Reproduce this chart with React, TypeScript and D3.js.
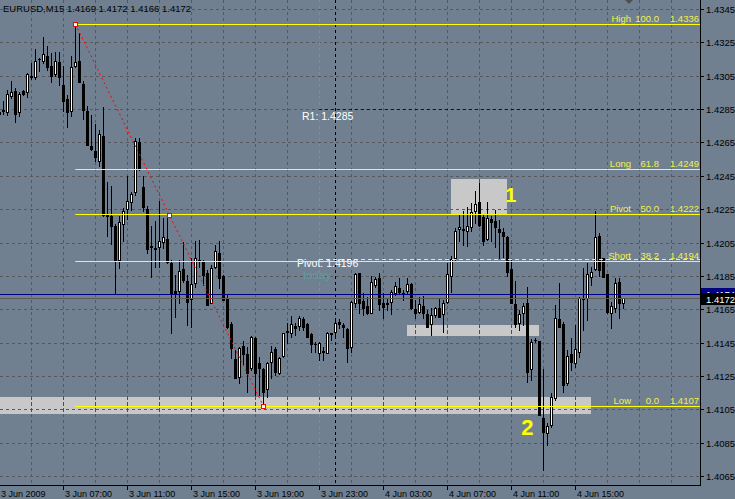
import React from 'react';
import * as d3 from 'd3';

// EURUSD M15 bars, starting 3 Jun 2009 03:00
const OPEN = [
  1.4283, 1.4284, 1.4283, 1.42926, 1.4296, 1.42832, 1.42956, 1.42952, 1.43044, 1.4304,
  1.43148, 1.43136, 1.4317, 1.4311, 1.4306, 1.43134, 1.42994, 1.4291, 1.42836, 1.43106,
  1.4314, 1.43, 1.4284, 1.4263, 1.426, 1.4254, 1.4269, 1.42222, 1.4221, 1.42146,
  1.41946, 1.42162, 1.4225, 1.42292, 1.4235, 1.4265, 1.42382, 1.42252, 1.42024, 1.42014,
  1.42026, 1.42052, 1.42072, 1.4193, 1.4176, 1.4176, 1.41892, 1.4182, 1.4171, 1.41806,
  1.41944, 1.41936, 1.41866, 1.41686, 1.41906, 1.4199, 1.4185, 1.4172, 1.4156, 1.4135,
  1.41246, 1.4143, 1.4138, 1.41296, 1.41476, 1.41326, 1.41292, 1.4117, 1.41336, 1.41412,
  1.41266, 1.4137, 1.41514, 1.41506, 1.4155, 1.4155, 1.4159, 1.4156, 1.415, 1.41442,
  1.4139, 1.41394, 1.41386, 1.41504, 1.41516, 1.41576, 1.41556, 1.41532, 1.41426, 1.41686,
  1.41866, 1.417, 1.4167, 1.4163, 1.41796, 1.41836, 1.4169, 1.41684, 1.41696, 1.4175,
  1.41776, 1.41744, 1.41762, 1.41802, 1.4165, 1.41636, 1.4167, 1.41622, 1.41562, 1.41616,
  1.41656, 1.4162, 1.41696, 1.4185, 1.41956, 1.4213, 1.42124, 1.42116, 1.42142, 1.42236,
  1.42292, 1.422, 1.4207, 1.4219, 1.4218, 1.4213, 1.42114, 1.42082, 1.41892, 1.4168,
  1.41566, 1.41626, 1.41686, 1.4129, 1.41464, 1.4146, 1.41, 1.40906, 1.40956, 1.41116,
  1.4159, 1.41562, 1.41206, 1.41382, 1.41326, 1.41396, 1.41714, 1.41716, 1.41846, 1.4189,
  1.4209, 1.41956, 1.41862, 1.41626, 1.4166, 1.41816, 1.4169,
];
const HIGH = [
  1.4285, 1.42896, 1.42966, 1.43016, 1.42976, 1.4295, 1.42966, 1.43066, 1.43126, 1.4321,
  1.43156, 1.43282, 1.43226, 1.43186, 1.43192, 1.43192, 1.43106, 1.42936, 1.4317, 1.4336,
  1.43306, 1.43016, 1.4287, 1.42816, 1.42762, 1.42726, 1.42862, 1.42412, 1.42386, 1.42162,
  1.42206, 1.42256, 1.4245, 1.42352, 1.42676, 1.42676, 1.4245, 1.42266, 1.42146, 1.42176,
  1.42296, 1.42196, 1.42196, 1.41946, 1.41856, 1.41946, 1.42052, 1.41856, 1.41956, 1.42056,
  1.42066, 1.41946, 1.41886, 1.41916, 1.42036, 1.42056, 1.41856, 1.41736, 1.41576, 1.41406,
  1.41426, 1.4146, 1.41426, 1.41492, 1.41486, 1.41366, 1.41296, 1.41336, 1.4143, 1.41426,
  1.41366, 1.41506, 1.41566, 1.4161, 1.41566, 1.4161, 1.41606, 1.41566, 1.41506, 1.41456,
  1.41456, 1.41426, 1.41512, 1.4151, 1.41596, 1.4159, 1.4157, 1.41536, 1.417, 1.41866,
  1.4187, 1.41746, 1.41726, 1.4185, 1.41846, 1.41866, 1.41746, 1.41716, 1.41766, 1.41816,
  1.41836, 1.41766, 1.41836, 1.41806, 1.41706, 1.41726, 1.4173, 1.41646, 1.41656, 1.41666,
  1.41716, 1.41706, 1.41926, 1.4197, 1.42136, 1.42216, 1.42236, 1.42262, 1.42286, 1.42356,
  1.42406, 1.42216, 1.42292, 1.42206, 1.42246, 1.42186, 1.42136, 1.42086, 1.41946, 1.4182,
  1.41646, 1.41686, 1.41786, 1.4147, 1.41476, 1.4146, 1.4129, 1.40966, 1.41146, 1.41676,
  1.41806, 1.41576, 1.41406, 1.41476, 1.41556, 1.41726, 1.41896, 1.41926, 1.41906, 1.42236,
  1.42106, 1.4196, 1.41862, 1.41696, 1.41836, 1.41836, 1.4172,
];
const LOW = [
  1.4281, 1.42822, 1.42816, 1.42916, 1.42772, 1.42806, 1.42936, 1.42922, 1.4303, 1.4303,
  1.43076, 1.43126, 1.43086, 1.4301, 1.43046, 1.42996, 1.42836, 1.4274, 1.42806, 1.431,
  1.4301, 1.4279, 1.42636, 1.42606, 1.42536, 1.42506, 1.42206, 1.42086, 1.42042, 1.41742,
  1.41896, 1.42056, 1.4219, 1.42246, 1.42336, 1.42486, 1.42236, 1.41986, 1.41846, 1.41906,
  1.41906, 1.42016, 1.41926, 1.41506, 1.41606, 1.41686, 1.41816, 1.41556, 1.41546, 1.41786,
  1.41906, 1.41796, 1.41676, 1.41686, 1.41896, 1.41776, 1.41706, 1.41536, 1.41356, 1.41236,
  1.4121, 1.41322, 1.41156, 1.41286, 1.41136, 1.41136, 1.4107, 1.41126, 1.41236, 1.41256,
  1.41262, 1.41366, 1.41446, 1.41486, 1.41496, 1.41526, 1.41526, 1.41486, 1.41396, 1.41396,
  1.41346, 1.41346, 1.41386, 1.41466, 1.41486, 1.41536, 1.41486, 1.41336, 1.41396, 1.41666,
  1.41626, 1.41616, 1.41622, 1.41626, 1.41786, 1.41646, 1.41596, 1.41646, 1.41622, 1.41736,
  1.41742, 1.41706, 1.4175, 1.4165, 1.41596, 1.41626, 1.41596, 1.41546, 1.41496, 1.41606,
  1.41602, 1.41516, 1.41686, 1.41756, 1.41946, 1.42056, 1.42036, 1.4203, 1.42116, 1.42166,
  1.42146, 1.42036, 1.42062, 1.42056, 1.42026, 1.41956, 1.41962, 1.4185, 1.41686, 1.41546,
  1.41526, 1.41556, 1.41216, 1.41226, 1.41456, 1.41016, 1.40686, 1.40836, 1.40946, 1.41106,
  1.41542, 1.41156, 1.41196, 1.41286, 1.41306, 1.41366, 1.41526, 1.41586, 1.41796, 1.41886,
  1.4185, 1.41842, 1.41626, 1.41536, 1.41636, 1.41596, 1.4166,
];
const CLOSE = [
  1.4282, 1.42844, 1.42942, 1.42952, 1.4282, 1.4294, 1.42942, 1.4306, 1.43048, 1.43136,
  1.43152, 1.4318, 1.431, 1.4305, 1.4314, 1.4304, 1.42896, 1.4283, 1.43102, 1.4313,
  1.4301, 1.42846, 1.42636, 1.4261, 1.4256, 1.427, 1.42216, 1.4221, 1.42146, 1.41946,
  1.42172, 1.42236, 1.423, 1.42342, 1.42656, 1.42496, 1.4226, 1.42012, 1.42028, 1.42018,
  1.4206, 1.4208, 1.41936, 1.41742, 1.41746, 1.4188, 1.41826, 1.41696, 1.418, 1.41956,
  1.41948, 1.41856, 1.41676, 1.41896, 1.42, 1.41836, 1.41706, 1.41546, 1.41416, 1.41236,
  1.41416, 1.4138, 1.41266, 1.41486, 1.41266, 1.41296, 1.41156, 1.41326, 1.41396, 1.41276,
  1.41356, 1.41506, 1.41518, 1.4156, 1.41536, 1.41596, 1.41542, 1.41486, 1.4144, 1.41444,
  1.4145, 1.41398, 1.41506, 1.41508, 1.41566, 1.4156, 1.41546, 1.41416, 1.41696, 1.4186,
  1.41686, 1.41656, 1.41626, 1.41816, 1.4183, 1.4168, 1.41666, 1.41688, 1.41756, 1.4179,
  1.41756, 1.41748, 1.41802, 1.41656, 1.41626, 1.4168, 1.41626, 1.41546, 1.41616, 1.41656,
  1.41606, 1.41686, 1.4186, 1.4195, 1.4212, 1.4214, 1.42128, 1.4215, 1.4223, 1.4228,
  1.42156, 1.42056, 1.42196, 1.4217, 1.4214, 1.42114, 1.42086, 1.41876, 1.41686, 1.41562,
  1.41622, 1.4167, 1.41276, 1.41456, 1.41468, 1.41016, 1.40916, 1.4095, 1.41126, 1.41596,
  1.41546, 1.41196, 1.4137, 1.41336, 1.4141, 1.41716, 1.41718, 1.4186, 1.41876, 1.4208,
  1.41886, 1.41846, 1.41636, 1.4167, 1.41806, 1.41686, 1.4172,
];

const PRICE_TICKS = [1.4065, 1.4085, 1.4105, 1.4125, 1.4145, 1.4165, 1.4185, 1.4205, 1.4225, 1.4245, 1.4265, 1.4285, 1.4305, 1.4325, 1.4345];
const TIME_LABELS = ['3 Jun 2009', '3 Jun 07:00', '3 Jun 11:00', '3 Jun 15:00', '3 Jun 19:00', '3 Jun 23:00', '4 Jun 03:00', '4 Jun 07:00', '4 Jun 11:00', '4 Jun 15:00'];
const TIME_LABEL_BARS = [0, 16, 32, 48, 64, 80, 96, 112, 128, 144];

// fibonacci from the 1.4336 high (bar 19) to the 1.4107 low (bar 66)
const FIB_FROM = 19;
const FIB_TO = 66;
const FIB_NAMES = ['High', 'Long', 'Pivot', 'Short', 'Low'];
const FIB_LEVELS = ['100.0', '61.8', '50.0', '38.2', '0.0'];
const FIB_PRICES = [1.4336, 1.4249, 1.4222, 1.4194, 1.4107];

const PIVOT = 1.4196;
const R1 = 1.4285;
const TODAY_BAR = 80;
const DAY_SEPARATOR_BAR = 84;
const BID = 1.4172;
const ASK = 1.4174;

const ZONES = [
  { from: 113, to: 127, top: 1.4243, bottom: 1.4222 },
  { from: 102, to: 135, top: 1.41555, bottom: 1.4149 },
  { from: -5, to: 148, top: 1.41124, bottom: 1.41024 },
];
const ZONE_TAGS = [
  { text: '1', bar: 126.5, price: 1.42293, size: 20 },
  { text: '2', bar: 130.5, price: 1.40896, size: 22 },
];

const W = 735;
const H = 499;
const PLOT_R = 700;
const PLOT_B = 485;
const BG = '#708090';
const GRID = '#58585a';
const FONT = 'Liberation Sans, Arial, sans-serif';

export default function App() {
  const x = d3.scaleLinear().domain([0, 1]).range([-0.7, 3.3]);
  const y = d3.scaleLinear().domain([1.4065, 1.4345]).range([476, 9]);
  const px = (i: number) => Math.round(x(i));
  const py = (p: number) => Math.round(y(p));

  const gridBars = d3.range(8, 180, 8).filter(i => x(i) < PLOT_R);
  const fmt = d3.format('.4f');
  const lastBar = OPEN.length - 1;

  const bars = OPEN.map((o, i) => {
    const cx = px(i);
    const yo = py(o);
    const yc = py(CLOSE[i]);
    const top = Math.min(yo, yc);
    const bot = Math.max(yo, yc);
    const bull = CLOSE[i] >= o;
    return (
      <g key={i}>
        <line x1={cx + 0.5} x2={cx + 0.5} y1={py(HIGH[i])} y2={py(LOW[i]) + 1} stroke="#000" />
        {bot - top < 1 ? (
          <line x1={cx - 1} x2={cx + 2} y1={top + 0.5} y2={top + 0.5} stroke="#000" />
        ) : (
          <rect x={cx - 0.5} y={top + 0.5} width={2} height={bot - top} fill={bull ? '#fff' : '#000'} stroke="#000" />
        )}
      </g>
    );
  });

  const fx1 = x(FIB_FROM);
  const fx2 = x(FIB_TO);
  const fy1 = y(HIGH[FIB_FROM]);
  const fy2 = y(LOW[FIB_TO]);

  const marker = (mx: number, my: number, key: string) => (
    <rect key={key} x={Math.round(mx) - 1.5} y={Math.round(my) - 1.5} width={4} height={4} fill="#fff" stroke="#ff0000" />
  );

  return (
    <svg width={W} height={H} style={{ position: 'fixed', left: 0, top: 0 }} fontFamily={FONT}>
      <defs>
        <clipPath id="plot">
          <rect x={0} y={0} width={PLOT_R} height={PLOT_B} />
        </clipPath>
        <clipPath id="askclip">
          <rect x={700} y={0} width={35} height={py(BID) - 5} />
        </clipPath>
      </defs>
      <rect width={W} height={H} fill={BG} />

      <g clipPath="url(#plot)">
        {/* zones */}
        {ZONES.map((z, i) => (
          <rect key={i} x={px(z.from)} y={py(z.top)} width={px(z.to) - px(z.from)} height={py(z.bottom) - py(z.top)} fill="#c8c8c8" />
        ))}

        {/* grid */}
        {PRICE_TICKS.map(t => (
          <line key={t} x1={0} x2={PLOT_R} y1={py(t) + 0.5} y2={py(t) + 0.5} stroke={GRID} strokeDasharray="3,3" />
        ))}
        {gridBars.map(i => (
          <line key={i} x1={px(i) + 0.5} x2={px(i) + 0.5} y1={0} y2={PLOT_B}
            stroke={i === TODAY_BAR ? '#5f9ea0' : GRID} strokeDasharray="3,3" />
        ))}
        {ZONES.map((z, zi) =>
          gridBars
            .filter(i => i > z.from && i < z.to)
            .map(i => (
              <line key={`${zi}-${i}`} x1={px(i) + 0.5} x2={px(i) + 0.5} y1={py(z.top)} y2={py(z.bottom)} stroke="#ff0000" strokeDasharray="3,3" />
            ))
        )}
        <line x1={px(DAY_SEPARATOR_BAR) + 0.5} x2={px(DAY_SEPARATOR_BAR) + 0.5} y1={0} y2={PLOT_B} stroke="#000" strokeDasharray="3,3" />

        {bars}

        {/* bid / ask */}
        <line x1={0} x2={PLOT_R} y1={py(ASK) + 0.5} y2={py(ASK) + 0.5} stroke="#000080" />
        <line x1={0} x2={PLOT_R} y1={py(BID) + 0.5} y2={py(BID) + 0.5} stroke="#5a5a5a" />

        {/* pivot levels */}
        <line x1={px(TODAY_BAR)} x2={PLOT_R} y1={py(R1) + 0.5} y2={py(R1) + 0.5} stroke="#0000c0" strokeDasharray="3,3" />
        <line x1={px(TODAY_BAR)} x2={PLOT_R} y1={py(PIVOT) + 1.5} y2={py(PIVOT) + 1.5} stroke="#ffff00" strokeDasharray="4,3" />
        <text x={302} y={120} fill="#fff" fontSize={10.5}>R1: {fmt(R1)}</text>
        <text x={297} y={267} fill="#fff" fontSize={10.5}>Pivot: {fmt(PIVOT)}</text>
        <text x={303} y={279} fill="#5f9ea0" fontSize={11.5}>today</text>

        {/* fibonacci */}
        {FIB_PRICES.map((p, i) => (
          <g key={p}>
            <line x1={fx1} x2={PLOT_R} y1={py(p) + 0.5} y2={py(p) + 0.5} stroke="#ffff00" />
            <text x={631} y={py(p) - 2} textAnchor="end" fill="#f0f050" fontSize={9.5}>{FIB_NAMES[i]}</text>
            <text x={659} y={py(p) - 2} textAnchor="end" fill="#f0f050" fontSize={9.5}>{FIB_LEVELS[i]}</text>
            <text x={699} y={py(p) - 2} textAnchor="end" fill="#f0f050" fontSize={9.5}>{fmt(p)}</text>
          </g>
        ))}
        <line x1={fx1} y1={fy1} x2={fx2} y2={fy2} stroke="#ff0000" strokeDasharray="2,3" />
        {marker(fx1, fy1, 'm1')}
        {marker((fx1 + fx2) / 2, (fy1 + fy2) / 2, 'm2')}
        {marker(fx2, fy2, 'm3')}

        {ZONE_TAGS.map(t => (
          <text key={t.text} x={x(t.bar)} y={py(t.price)} fill="#ffff00" fontWeight="bold" fontSize={t.size}>{t.text}</text>
        ))}

        {/* shift marker */}
        <path d={`M${px(lastBar) + 2},0 L${px(lastBar) + 10},0 L${px(lastBar) + 6},4 Z`} fill="#505050" />
      </g>

      <text x={3} y={12} fill="#000" fontSize={9.5}>EURUSD,M15  {fmt(OPEN[lastBar])} {fmt(HIGH[lastBar])} {fmt(LOW[lastBar])} {fmt(CLOSE[lastBar])}</text>

      {/* axes */}
      <line x1={PLOT_R + 0.5} x2={PLOT_R + 0.5} y1={0} y2={PLOT_B + 1} stroke="#000" />
      <line x1={0} x2={PLOT_R + 1} y1={PLOT_B + 0.5} y2={PLOT_B + 0.5} stroke="#000" />
      {PRICE_TICKS.map(t => (
        <g key={t}>
          <line x1={PLOT_R} x2={PLOT_R + 4} y1={py(t) + 0.5} y2={py(t) + 0.5} stroke="#000" />
          <text x={706} y={py(t) + 4} fill="#000" fontSize={9.5}>{fmt(t)}</text>
        </g>
      ))}
      <g clipPath="url(#askclip)">
        <rect x={701} y={py(ASK) - 6} width={34} height={12} fill="#000080" />
        <text x={706} y={py(ASK) + 4} fill="#fff" fontSize={9.5}>{fmt(ASK)}</text>
      </g>
      <rect x={701} y={py(BID) - 5} width={34} height={12} fill="#000" />
      <text x={706} y={py(BID) + 5} fill="#fff" fontSize={9.5}>{fmt(BID)}</text>
      {TIME_LABELS.map((l, i) => (
        <g key={l}>
          <line x1={px(TIME_LABEL_BARS[i]) + 0.5} x2={px(TIME_LABEL_BARS[i]) + 0.5} y1={PLOT_B} y2={PLOT_B + 5} stroke="#000" />
          <text x={Math.max(0, px(TIME_LABEL_BARS[i]) + 2)} y={497} fill="#000" fontSize={9}>{l}</text>
        </g>
      ))}
    </svg>
  );
}
